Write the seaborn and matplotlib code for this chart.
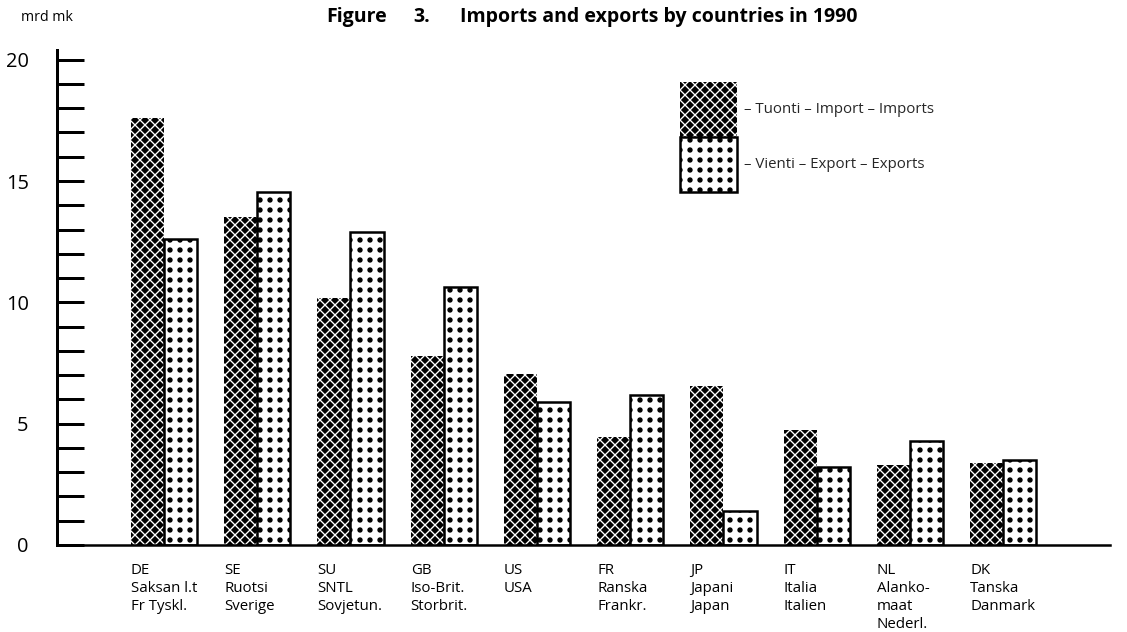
import numpy as np
import pandas as pd
import matplotlib
matplotlib.use("Agg")
import matplotlib.pyplot as plt
import matplotlib.hatch as mhatch
import matplotlib.path as mpath
import matplotlib.patches as mpatches
from matplotlib.ticker import MultipleLocator, FixedLocator, FuncFormatter
from matplotlib.transforms import ScaledTranslation
import seaborn as sns

# ---------------- data ----------------
codes = ["DE", "SE", "SU", "GB", "US", "FR", "JP", "IT", "NL", "DK"]
tick_labels = [
    "DE\nSaksan l.t\nFr Tyskl.",
    "SE\nRuotsi\nSverige",
    "SU\nSNTL\nSovjetun.",
    "GB\nIso-Brit.\nStorbrit.",
    "US\nUSA",
    "FR\nRanska\nFrankr.",
    "JP\nJapani\nJapan",
    "IT\nItalia\nItalien",
    "NL\nAlanko-\nmaat\nNederl.",
    "DK\nTanska\nDanmark",
]
imports = [17.6, 13.5, 10.2, 7.8, 7.05, 4.45, 6.55, 4.75, 3.3, 3.4]
exports = [12.6, 14.55, 12.9, 10.65, 5.9, 6.2, 1.4, 3.2, 4.3, 3.5]
series = ["Imports", "Exports"]
legend_labels = ["– Tuonti – Import – Imports", "– Vienti – Export – Exports"]
y_unit = "mrd mk"
title_parts = ["Figure", "3.", "Imports and exports by countries in 1990"]

df = pd.DataFrame({
    "code": codes * 2,
    "flow": [series[0]] * len(codes) + [series[1]] * len(codes),
    "value": imports + exports,
})


# ------------- square-grid dot hatch (replaces staggered '.') -------------
class GridDots(mhatch.Circles):
    size = 0.2
    filled = True

    def __init__(self, hatch, density):
        self.num_rows = hatch.count('.') * density
        path = mpath.Path.unit_circle()
        self.shape_vertices = path.vertices
        self.shape_codes = path.codes
        if self.num_rows == 0:
            self.num_shapes = 0
            self.num_vertices = 0
        else:
            self.num_shapes = (self.num_rows + 1) ** 2
            self.num_vertices = self.num_shapes * len(self.shape_vertices)

    def set_vertices_and_codes(self, vertices, codes_):
        offset = 1.0 / self.num_rows
        sv = self.shape_vertices * offset * self.size
        nv = len(sv)
        pos = np.linspace(0, 1, self.num_rows + 1)
        k = 0
        for r in pos:
            for c in pos:
                vertices[k:k + nv] = sv + [c, r]
                codes_[k:k + nv] = self.shape_codes
                k += nv


mhatch._hatch_types = [GridDots if t is mhatch.SmallFilledCircles else t
                       for t in mhatch._hatch_types]

# ---------------- style ----------------
sns.set_theme(style="white")
plt.rcParams["font.family"] = ["Open Sans", "DejaVu Sans"]
plt.rcParams["hatch.linewidth"] = 0.8

DPI = 120
W, H = 1127, 632
fig = plt.figure(figsize=(W / DPI, H / DPI), dpi=DPI)
ax = fig.add_axes([57 / W, (H - 545) / H, (1110 - 57) / W, (545 - 50) / H])

sns.barplot(data=df, x="code", y="value", hue="flow", hue_order=series,
            palette=["black", "white"], saturation=1, width=0.71,
            errorbar=None, legend=False, ax=ax,
            edgecolor="black", linewidth=1.5)

IMP_HATCH = "xxxx"
EXP_HATCH = ".."
for bar in ax.containers[0]:
    bar.set_edgecolor("white")
    bar.set_linewidth(0)
    bar.set_hatch(IMP_HATCH)
for bar in ax.containers[1]:
    bar.set_facecolor("white")
    bar.set_edgecolor("black")
    bar.set_linewidth(1.5)
    bar.set_hatch(EXP_HATCH)

ax.set_xlim(-1.147, 10.145)
ax.set_ylim(0, 20.4)
ax.set_xlabel("")
ax.set_ylabel("")

for s in ["top", "right"]:
    ax.spines[s].set_visible(False)
ax.spines["left"].set_linewidth(1.8)
ax.spines["left"].set_color("black")
ax.spines["bottom"].set_linewidth(1.5)
ax.spines["bottom"].set_color("black")

ax.yaxis.set_major_locator(MultipleLocator(1))
ax.yaxis.set_major_formatter(FuncFormatter(lambda v, p: f"{int(round(v))}" if round(v) % 5 == 0 else ""))
ax.yaxis.set_minor_locator(FixedLocator([10, 20]))
ax.tick_params(axis="y", which="major", direction="in", length=16, width=1.8,
               pad=17, labelsize=12, colors="black", left=True)
ax.tick_params(axis="y", which="minor", direction="in", length=32, width=1.8,
               colors="black", left=True)

ax.set_xticks(range(len(codes)))
ax.set_xticklabels(tick_labels, ha="left", va="top", fontsize=9)
ax.tick_params(axis="x", length=0, pad=11, colors="black")
shift = ScaledTranslation(-33 / DPI, 0, fig.dpi_scale_trans)
for lab in ax.get_xticklabels():
    lab.set_transform(lab.get_transform() + shift)
    lab.set_linespacing(1.27)

ty = 1 - 17 / H
for part, xpx in zip(title_parts, [326, 413, 460]):
    fig.text(xpx / W, ty, part, ha="left", va="center",
             fontsize=11.7, fontweight="bold", color="black")
fig.text(21 / W, 1 - 17.5 / H, y_unit, ha="left", va="center",
         fontsize=8.5, color="black")

fs = 9
fs_px = fs * DPI / 72
hh = (55 / fs_px - 0.245) / 0.65
handles = [
    mpatches.Patch(facecolor="black", edgecolor="white", hatch=IMP_HATCH, linewidth=0),
    mpatches.Patch(facecolor="white", edgecolor="black", hatch=EXP_HATCH, linewidth=1.5),
]
fig.legend(handles, legend_labels, loc="upper left",
           bbox_to_anchor=(680 / W, 1 - 82 / H), frameon=False,
           borderpad=0, borderaxespad=0, handlelength=57 / fs_px,
           handleheight=hh, labelspacing=0, handletextpad=0.5,
           fontsize=fs)

fig.savefig("out.png", dpi=DPI)
